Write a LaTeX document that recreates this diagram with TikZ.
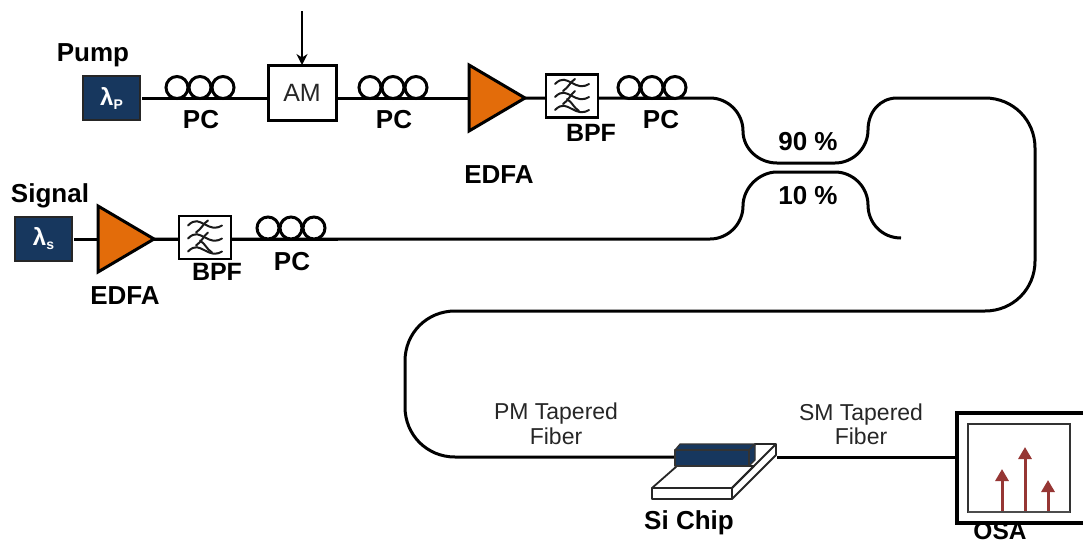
\documentclass[tikz,border=0pt]{standalone}
\usepackage{fontspec}
\setmainfont{Liberation Sans}
\usetikzlibrary{shapes.geometric,arrows.meta}
\definecolor{navy}{HTML}{17375E}
\definecolor{ampor}{HTML}{E36C0A}
\definecolor{peak}{HTML}{963634}
\newcommand{\bfs}{\fontsize{26}{30}\selectfont\bfseries}
\newcommand{\rgs}{\fontsize{23}{27}\selectfont}
\tikzset{
  fiber/.style={line width=3pt,line join=round},
  lab/.style={font=\bfs,inner sep=0pt,text=black},
  thin lab/.style={font=\rgs,inner sep=0pt,align=center,text depth=0pt,text=black!85},
  laser/.style={draw=black!85,fill=navy,line width=2pt,minimum width=57pt,minimum height=44pt,inner sep=0pt,outer sep=0pt,text=white},
  modbox/.style={draw=black,fill=white,line width=3pt,minimum width=68pt,minimum height=55pt,inner sep=0pt,outer sep=0pt,font=\fontsize{25}{29}\selectfont,text=black!85},
  filterbox/.style={draw=black,fill=white,line width=2.8pt,minimum width=52pt,minimum height=43pt,inner sep=0pt,outer sep=0pt},
  amp/.style={isosceles triangle,isosceles triangle stretches,shape border rotate=0,draw=black,fill=ampor,line width=3pt,minimum width=66pt,minimum height=56pt,inner sep=0pt,outer sep=0pt,anchor=lower side},
  loop/.style={circle,draw=black,fill=white,line width=3pt,minimum size=22pt,inner sep=0pt,outer sep=0pt},
  wave/.style={line width=2pt,black!90,line cap=round},
  slabline/.style={draw=black!85,line width=1.8pt,line join=round,fill=white},
  wgface/.style={draw=black!80,fill=navy,line width=1.2pt,line join=round},
  peakarrow/.style={draw=peak,line width=3pt,-{Triangle[length=12pt,width=13pt]}},
  scope frame/.style={draw=black!80,line width=1.8pt,fill=white,minimum width=102pt,minimum height=88pt,inner sep=0pt,outer sep=0pt},
  osabox/.style={draw=black,fill=white,line width=3.6pt,minimum width=140pt,minimum height=110pt,inner sep=0pt,outer sep=0pt},
}
\newcommand{\lamsub}[2]{{\fontsize{24}{28}\selectfont\bfseries #1\raisebox{-4pt}{\fontsize{14}{16}\selectfont #2}}}
\newcommand{\threeloops}[3]{%
  \node[loop] (#1a) at (#2,#3) {};
  \node[loop] (#1b) at (#2+23,#3) {};
  \node[loop] (#1c) at (#2+46,#3) {};
  \draw[fiber] (#1a.south) -- (#1c.south);
}
\newcommand{\filtersym}[2]{%
  \begin{scope}[shift={(#1,#2)}]
    \foreach \r in {-13,0,13}{
      \draw[wave] (-17,\r+1) .. controls (-10,\r-6) and (-6,\r-3) .. (0,\r) .. controls (6,\r+3) and (10,\r+5) .. (17,\r+1);
    }
    \draw[wave] (-9,-5) .. controls (-3,-9) and (-2,-14) .. (3,-17);
    \draw[wave] (-9,8) .. controls (-3,4) and (-2,-1) .. (3,-5);
    \draw[wave] (-5,3) .. controls (1,7) and (1,11) .. (7,15);
  \end{scope}
}
\begin{document}
\begin{tikzpicture}[x=1pt,y=-1pt]
\useasboundingbox (0,0) rectangle (1083,541);
\clip (0,0) rectangle (1083,541);

% nodes: pump line
\node[laser] (pump) at (111.5,98) {\lamsub{λ}{P}};
\node[modbox] (am) at (302,92.5) {AM};
\coordinate (amin) at (268,98);
\coordinate (amout) at (336,98);
\coordinate (modin) at (302,11);
% nodes: signal line
\node[laser] (sig) at (43.5,239) {\lamsub{λ}{s}};
\coordinate (amp1in) at (469,98);
\coordinate (amp2in) at (98,239);
\coordinate (bpf1c) at (572,96);
\coordinate (bpf2c) at (205,237.5);
% chip + OSA
\coordinate (chipin) at (677,457);
\coordinate (chipout) at (777,457);
\node[osabox] (osa) at (1027,468) {};
\coordinate (osain) at (957,457);

% straight fibres
\draw[fiber,shorten <=2pt] (pump.east) -- (amin);
\draw[fiber] (amout) -- (amp1in);
\draw[fiber,shorten <=2pt] (sig.east) -- (amp2in);
\draw[fiber] (amp2in) -- (338,239);
\draw[-{Stealth[length=11pt,width=11pt]},line width=1.8pt] (modin) -- (am.north);

% upper coupler arm and long output fibre
\draw[fiber] (amp1in) -- (710,98)
  .. controls (728,98) and (743,113) .. (743,131)
  .. controls (743,149) and (759,163) .. (777,163) -- (835,163)
  .. controls (853,163) and (868,148) .. (868,130)
  .. controls (868,112) and (880,98) .. (897,98) -- (985,98)
  .. controls (1013,98) and (1035,120) .. (1035,148) -- (1035,261)
  .. controls (1035,289) and (1013,311) .. (985,311) -- (455,311)
  .. controls (427,311) and (405,333) .. (405,361) -- (405,407)
  .. controls (405,435) and (427,457) .. (455,457) -- (chipin);
% lower coupler arm
\draw[fiber] (amp2in) -- (710,239)
  .. controls (728,239) and (743,224) .. (743,206)
  .. controls (743,188) and (759,172) .. (777,172) -- (835,172)
  .. controls (853,172) and (868,187) .. (868,205)
  .. controls (868,223) and (882,238) .. (901,238);
\draw[fiber] (chipout) -- (osain);

% devices above the fibres
\node[amp] (amp1) at (amp1in) {};
\node[amp] (amp2) at (amp2in) {};
\node[filterbox] (bpf1) at (bpf1c) {};
\node[filterbox] (bpf2) at (bpf2c) {};
\node[modbox] (am2) at (am) {AM};

% polarization controllers
\threeloops{pcA}{177}{87.5}
\threeloops{pcB}{370}{87.5}
\threeloops{pcC}{629}{87.5}
\threeloops{pcD}{268}{228}

% filters
\filtersym{572}{96}
\filtersym{205}{237.5}

% chip
\draw[slabline] (755,444) -- (776,444) -- (776,455) -- (732,499) -- (732,488) -- cycle;
\draw[slabline] (677,466) -- (754,466) -- (732,488) -- (652,488) -- cycle;
\draw[slabline] (776,444) -- (732,488);
\node[slabline,draw,minimum width=80pt,minimum height=11pt,inner sep=0pt,outer sep=0pt] (slab) at (692,493.5) {};
\draw[wgface] (675,450) -- (680,444) -- (755,444) -- (749,450) -- cycle;
\draw[wgface] (749,450) -- (755,444) -- (755,460) -- (749,466) -- cycle;
\node[wgface,minimum width=74pt,minimum height=16pt,inner sep=0pt,outer sep=0pt] (wg) at (712,458) {};

% OSA screen
\node[scope frame] (screen) at (1019,468) {};
\coordinate (p1) at (1002,512);
\coordinate (p2) at (1025,512);
\coordinate (p3) at (1048,512);
\draw[peakarrow] (p1) -- (1002,469);
\draw[peakarrow] (p2) -- (1025,447);
\draw[peakarrow] (p3) -- (1048,480);
\draw[draw=black!70,line width=1.8pt] (screen.south west) -- (screen.south east);

% labels
\node[lab] (lpump) at (93,55) {Pump};
\node[lab] (lsig) at (50,196) {Signal};
\node[lab] (l1) at (201,120) {PC};
\node[lab] (l2) at (394,120) {PC};
\node[lab] (l3) at (661,120) {PC};
\node[lab] (l4) at (292,262) {PC};
\node[lab,font=\fontsize{25}{29}\selectfont\bfseries] (l5) at (591,133) {BPF};
\node[lab,font=\fontsize{25}{29}\selectfont\bfseries] (l6) at (217,272) {BPF};
\node[lab] (l7) at (499,175) {EDFA};
\node[lab] (l8) at (125,296) {EDFA};
\node[lab] (l9) at (808,142) {90 \%};
\node[lab] (l10) at (808,196) {10 \%};
\node[lab] (l11) at (689,523) {Si Chip};
\node[lab,font=\fontsize{24.5}{28}\selectfont\bfseries] (l12) at (1000,531) {OSA};
\node[thin lab] (l13) at (556,411) {PM Tapered};
\node[thin lab] (l14) at (556,436) {Fiber};
\node[thin lab] (l15) at (861,412) {SM Tapered};
\node[thin lab] (l16) at (861,436) {Fiber};
\end{tikzpicture}
\end{document}
